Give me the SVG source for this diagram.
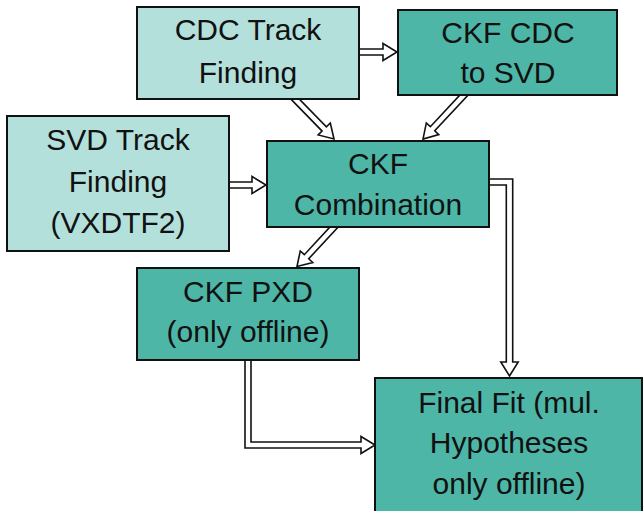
<svg xmlns="http://www.w3.org/2000/svg" width="643" height="511" viewBox="0 0 643 511">
<style>
.light{fill:#b3e0db;stroke:#111;stroke-width:2}
.dark{fill:#4db6a7;stroke:#111;stroke-width:2}
.arrow{fill:#fff;stroke:#111;stroke-width:1.6;stroke-linejoin:miter}
text{font-family:"Liberation Sans",Arial,Helvetica,sans-serif;font-size:30px;fill:#111;text-anchor:middle}
</style>
<rect width="643" height="511" fill="#fff"/>
<g id="connectors">
<polygon class="arrow" points="352,49 383,49 383,43.5 397,52 383,60.5 383,55 352,55"/>
<polygon class="arrow" points="222,182 252,182 252,176.5 266,185 252,193.5 252,188 222,188"/>
<polygon class="arrow" points="287.27,95.36 322.08,131.07 318.14,134.91 334,139 330.32,123.05 326.38,126.89 291.57,91.18"/>
<polygon class="arrow" points="467.25,87.10 430.34,126.70 426.32,122.95 423,139 438.76,134.55 434.74,130.80 471.65,91.20"/>
<polygon class="arrow" points="337.23,219.09 304.31,254.68 300.27,250.95 297,266.5 312.75,262.49 308.71,258.76 341.63,223.17"/>
<polygon class="arrow" points="485,179 512.7,179 512.7,362 518.2,362 509.5,376 500.8,362 506.3,362 506.3,185 485,185"/>
<polygon class="arrow" points="245,355 245,448 361,448 361,453.5 375,445 361,436.5 361,442 251,442 251,355"/>
</g>
<g id="cdc-track-finding">
<rect class="light" x="137" y="7" width="222" height="92"/>
<text x="248" y="40">CDC Track</text>
<text x="248" y="83">Finding</text>
</g>
<g id="ckf-cdc-to-svd">
<rect class="dark" x="398" y="10" width="219" height="85"/>
<text x="508" y="43">CKF CDC</text>
<text x="508" y="83">to SVD</text>
</g>
<g id="svd-track-finding">
<rect class="light" x="7" y="116" width="222" height="135"/>
<text x="118" y="150">SVD Track</text>
<text x="118" y="192">Finding</text>
<text x="118" y="233">(VXDTF2)</text>
</g>
<g id="ckf-combination">
<rect class="dark" x="267" y="141" width="222" height="86"/>
<text x="378" y="174">CKF</text>
<text x="378" y="215">Combination</text>
</g>
<g id="ckf-pxd">
<rect class="dark" x="137" y="268" width="222" height="92"/>
<text x="248" y="302">CKF PXD</text>
<text x="248" y="342">(only offline)</text>
</g>
<g id="final-fit">
<rect class="dark" x="375" y="378" width="267" height="145"/>
<text x="509" y="413">Final Fit (mul.</text>
<text x="509" y="453">Hypotheses</text>
<text x="509" y="494">only offline)</text>
</g>
</svg>
